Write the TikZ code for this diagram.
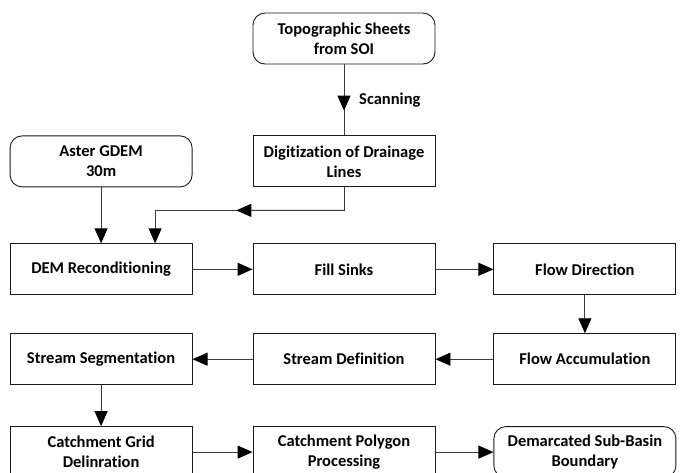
\documentclass[tikz,border=0pt]{standalone}
\usepackage{fontspec}
\setmainfont{Carlito}[Ligatures=NoCommon]
\usetikzlibrary{arrows.meta, positioning, calc}
\definecolor{tinta}{HTML}{1A1A1A}
\definecolor{gristrazo}{HTML}{3C3C3C}
\tikzset{
  proc/.style={rectangle, minimum width=182pt, minimum height=51pt, text centered,
               draw=tinta, line width=0.9pt, font=\fontsize{16.5}{20}\selectfont\bfseries,
               align=center, inner sep=2pt},
  term/.style={proc, rounded corners=12pt},
  etiqueta/.style={font=\fontsize{16.5}{20}\selectfont\bfseries, inner sep=0pt},
  linea/.style={line width=0.9pt, color=gristrazo},
  arrow/.style={linea, -{Triangle[length=15pt, width=13pt, color=black]}}
}

\begin{document}
\begin{tikzpicture}[node distance=38pt and 60pt]
  \useasboundingbox (0,0) rectangle (681pt,-472pt);
  \node (topo) [term] at (344pt,-38.5pt) {Topographic Sheets\\ from SOI};
  \node (digit) [proc, below=71pt of topo] {Digitization of Drainage\\ Lines};
  \node (aster) [term, left=of digit] {Aster GDEM\\ 30m};
  \node (dem) [proc, below=56pt of aster] {DEM Reconditioning};
  \node (fill) [proc, right=of dem] {Fill Sinks};
  \node (fdir) [proc, right=58pt of fill] {Flow Direction};
  \node (facc) [proc, below=of fdir] {Flow Accumulation};
  \node (sdef) [proc, left=58pt of facc] {Stream Definition};
  \node (sseg) [proc, left=of sdef] {Stream Segmentation};
  \node (grid) [proc, below=41pt of sseg] {Catchment Grid\\ Delinration};
  \node (poly) [proc, right=of grid] {Catchment Polygon\\ Processing};
  \node (demar) [term, right=58pt of poly] {Demarcated Sub-Basin\\ Boundary};
  % scanning
  \draw [linea] (topo) -- (digit);
  \draw [arrow] (topo.south) -- ($(topo.south)!0.65!(digit.north)$);
  \node (scan) [etiqueta, anchor=west] at ($(topo.south)!0.5!(digit.north)+(15pt,0)$) {Scanning};
  % drainage lines into DEM
  \coordinate (codo) at ($(digit.south)+(0,-23pt)$);
  \coordinate (entra) at ($(dem.north)+(54pt,0)$);
  \draw [arrow] (digit.south) -- (codo) -| (entra);
  \draw [arrow] (codo) -- ($(codo)!0.57!(codo -| entra)$);
  \draw [arrow] (aster) -- (dem);
  \draw [arrow] (dem) -- (fill); \draw [arrow] (fill) -- (fdir);
  \draw [arrow] (fdir) -- (facc); \draw [arrow] (facc) -- (sdef);
  \draw [arrow] (sdef) -- (sseg); \draw [arrow] (sseg) -- (grid);
  \draw [arrow] (grid) -- (poly); \draw [arrow] (poly) -- (demar);
\end{tikzpicture}
\end{document}
